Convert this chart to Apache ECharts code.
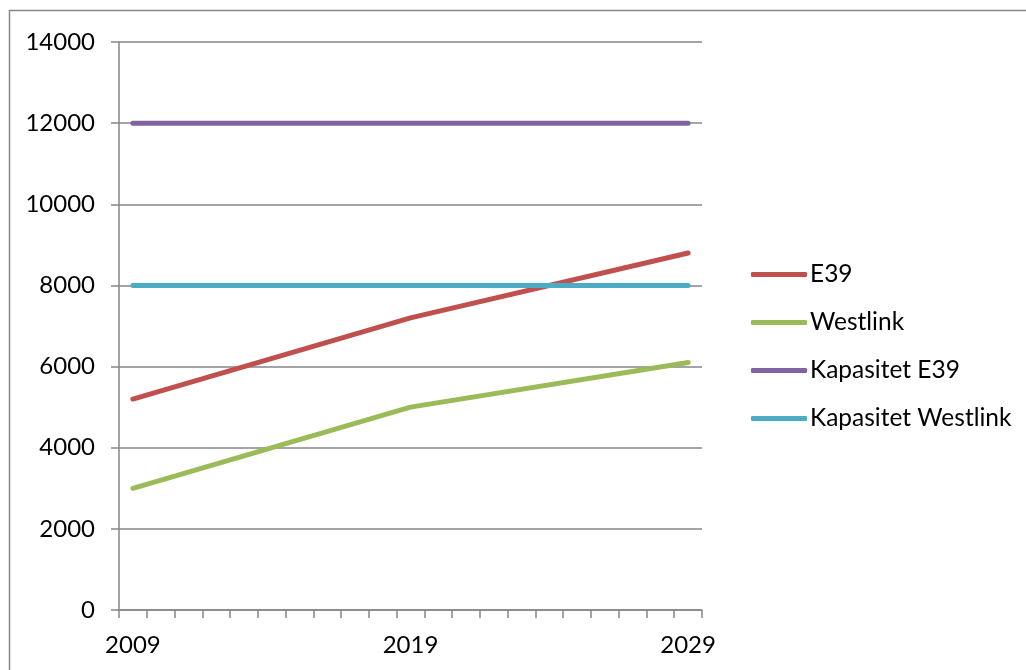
<!DOCTYPE html>
<html><head><meta charset="utf-8">
<script src="https://cdn.jsdelivr.net/npm/echarts@6/dist/echarts.min.js"></script>
<style>html,body{margin:0;padding:0;background:#fff}#c{width:1026px;height:670px}</style>
</head><body><div id="c"></div>
<script>
const years = [];
for (let y = 2009; y <= 2029; y++) years.push(String(y));
const e39 = [['2009', 5200], ['2019', 7200], ['2029', 8800]];
const westlink = [['2009', 3000], ['2019', 5000], ['2029', 6100]];
const kapE39 = [['2009', 12000], ['2019', 12000], ['2029', 12000]];
const kapWestlink = [['2009', 8000], ['2019', 8000], ['2029', 8000]];
const names = ['E39', 'Westlink', 'Kapasitet E39', 'Kapasitet Westlink'];
const colors = ['#C0504D', '#9BBB59', '#8064A2', '#4BACC6'];
const seriesData = [e39, westlink, kapE39, kapWestlink];

const font = 'Lato, "Open Sans", sans-serif';
const chart = echarts.init(document.getElementById('c'));
chart.setOption({
  animation: false,
  color: colors,
  graphic: [{type: 'rect', shape: {x: 9.5, y: 10.5, width: 1100, height: 800},
    style: {fill: 'none', stroke: '#868686', lineWidth: 1.5}, silent: true}],
  grid: {left: 119, right: 324, top: 42, bottom: 60},
  legend: {
    orient: 'vertical', left: 746, top: 257, itemGap: 23,
    icon: 'roundRect', itemWidth: 56, itemHeight: 5,
    textStyle: {fontFamily: font, fontSize: 24.5, color: '#000', padding: [0, 0, 0, -2]},
    data: names
  },
  xAxis: {
    type: 'category', data: years, boundaryGap: true,
    axisLine: {lineStyle: {color: '#868686', width: 1.5}},
    axisTick: {show: true, interval: 0, length: 8, lineStyle: {color: '#868686', width: 1.5}},
    axisLabel: {interval: 9, fontFamily: font, fontSize: 24, color: '#000', margin: 23},
    splitLine: {show: false}
  },
  yAxis: {
    type: 'value', min: 0, max: 14000, interval: 2000,
    axisLine: {show: true, lineStyle: {color: '#868686', width: 1.5}},
    axisTick: {show: true, length: 8, lineStyle: {color: '#868686', width: 1.5}},
    axisLabel: {fontFamily: font, fontSize: 24, color: '#000', margin: 24, formatter: v => String(v)},
    splitLine: {show: true, lineStyle: {color: '#868686', width: 1.5}}
  },
  series: names.map((n, i) => ({
    name: n, type: 'line', data: seriesData[i], showSymbol: false, symbol: 'none',
    lineStyle: {width: 5, color: colors[i], cap: 'round'}, itemStyle: {color: colors[i]}
  }))
});
</script></body></html>
